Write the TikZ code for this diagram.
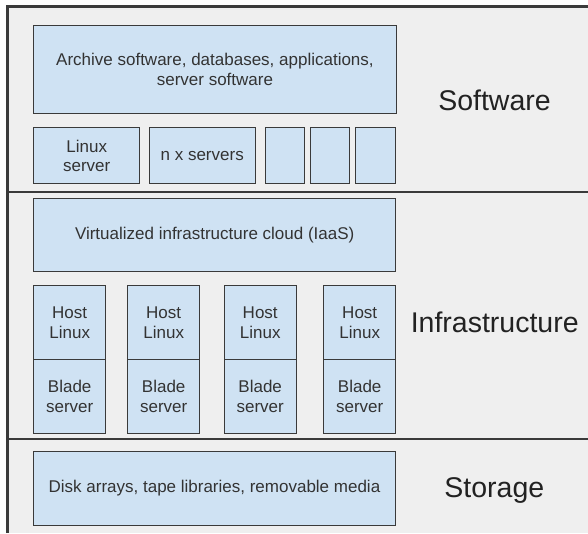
\documentclass[tikz,border=0pt]{standalone}
\usepackage{fontspec}
\setmainfont{Liberation Sans}

\definecolor{panel}{HTML}{EFEFEF}
\definecolor{boxfill}{HTML}{CFE2F3}
\definecolor{edge}{HTML}{3A3A3A}
\definecolor{ink}{HTML}{333333}
\definecolor{labelink}{HTML}{222222}

\tikzset{
  layerbox/.style={draw=edge, fill=boxfill, line width=1.4pt, anchor=north west,
    inner sep=0pt, align=center, text=ink, font=\fontsize{17}{19.5}\selectfont},
  layerlabel/.style={anchor=base, text=labelink, font=\fontsize{28.5}{32}\selectfont},
  rule/.style={draw=edge, line width=2.2pt},
}

\begin{document}
\begin{tikzpicture}[x=1pt, y=-1pt]
  \useasboundingbox (0,0) rectangle (588,533);

  % panel with frame and layer separators
  \fill[panel] (7.5,6.5) rectangle (588,533);
  \draw[rule] (7.5,533) -- (7.5,6.5) -- (588,6.5);
  \draw[rule] (7.5,192) -- (588,192);
  \draw[rule] (7.5,439.3) -- (588,439.3);

  % software layer
  \node[layerbox, minimum width=362.5pt, minimum height=87.5pt] (apps) at (33,25)
    {Archive software, databases, applications,\\server software};
  \node[layerbox, minimum width=106pt, minimum height=56pt] (linuxsrv) at (33,127)
    {Linux\\server};
  \node[layerbox, minimum width=106pt, minimum height=56pt] (nsrv) at (148.5,127)
    {n x servers};
  \node[layerbox, minimum width=39pt, minimum height=56pt] (srvA) at (265,127) {};
  \node[layerbox, minimum width=39.5pt, minimum height=56pt] (srvB) at (309.5,127) {};
  \node[layerbox, minimum width=40pt, minimum height=56pt] (srvC) at (355,127) {};

  % infrastructure layer
  \node[layerbox, minimum width=362pt, minimum height=73pt] (cloud) at (33,197.5)
    {Virtualized infrastructure cloud (IaaS)};
  \foreach \x [count=\i] in {33,127,223.5,323} {
    \node[layerbox, minimum width=72pt, minimum height=74pt] (host\i) at (\x,285)
      {Host\\Linux};
    \node[layerbox, minimum width=72pt, minimum height=73.5pt] (blade\i) at (\x,359)
      {Blade\\server};
  }

  % storage layer
  \node[layerbox, minimum width=362.5pt, minimum height=73.5pt] (disks) at (32.5,451)
    {Disk arrays, tape libraries, removable media};

  % layer names
  \node[layerlabel] (software) at (494.5,110) {Software};
  \node[layerlabel] (infra) at (494.7,332.7) {Infrastructure};
  \node[layerlabel] (storage) at (494.3,497.3) {Storage};
\end{tikzpicture}
\end{document}
